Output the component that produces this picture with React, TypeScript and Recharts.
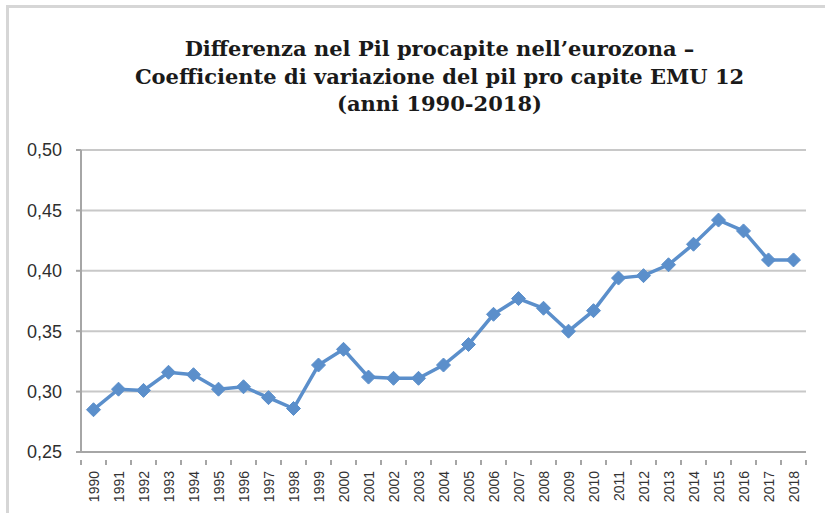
import React from "react";
import { LineChart, Line, XAxis, YAxis, CartesianGrid } from "recharts";

const years = [
  "1990", "1991", "1992", "1993", "1994", "1995", "1996", "1997", "1998", "1999",
  "2000", "2001", "2002", "2003", "2004", "2005", "2006", "2007", "2008", "2009",
  "2010", "2011", "2012", "2013", "2014", "2015", "2016", "2017", "2018",
];
const coeffVariazione = [
  0.285, 0.302, 0.301, 0.316, 0.314, 0.302, 0.304, 0.295, 0.286, 0.322,
  0.335, 0.312, 0.311, 0.311, 0.322, 0.339, 0.364, 0.377, 0.369, 0.35,
  0.367, 0.394, 0.396, 0.405, 0.422, 0.442, 0.433, 0.409, 0.409,
];
const yTicks = [0.25, 0.3, 0.35, 0.4, 0.45, 0.5];
const titleLines = [
  "Differenza nel Pil procapite nell\u2019eurozona \u2013",
  "Coefficiente di variazione del pil pro capite EMU 12",
  "(anni 1990-2018)",
];

const data = years.map((y, i) => ({ anno: y, cv: coeffVariazione[i] }));

const AXIS_GREY = "#a6a6a6";
const LINE_BLUE = "#5b8fcb";
const BAND = 25; // width of one year on the x axis

function Diamond(props: any) {
  const { cx, cy } = props;
  if (cx == null || cy == null) return null;
  const r = 7;
  return (
    <polygon
      points={`${cx},${cy - r} ${cx + r},${cy} ${cx},${cy + r} ${cx - r},${cy}`}
      fill={LINE_BLUE}
      stroke={LINE_BLUE}
      strokeWidth={1}
    />
  );
}

function YearTick(props: any) {
  const { x, y, payload, index } = props;
  const last = index === years.length - 1;
  return (
    <g>
      <line x1={x - BAND / 2} y1={y} x2={x - BAND / 2} y2={y + 5} stroke={AXIS_GREY} strokeWidth={2} />
      {last && (
        <line x1={x + BAND / 2} y1={y} x2={x + BAND / 2} y2={y + 5} stroke={AXIS_GREY} strokeWidth={2} />
      )}
      <text
        transform={`translate(${x + 1},${y + 11}) rotate(-90)`}
        textAnchor="end"
        dy="0.35em"
        fontSize={14}
        fill="#333"
        fontFamily="'Liberation Sans Narrow', 'Liberation Sans', sans-serif"
      >
        {payload.value}
      </text>
    </g>
  );
}

export default function App() {
  return (
    <div
      style={{
        position: "absolute",
        left: 0,
        top: 0,
        width: 825,
        height: 513,
        background: "#fff",
        overflow: "hidden",
      }}
    >
      <div
        style={{
          position: "absolute",
          left: 6,
          top: 5,
          width: 830,
          height: 520,
          borderTop: "3px solid #d6d6d6",
          borderLeft: "3px solid #d6d6d6",
        }}
      />
      <div
        style={{
          position: "absolute",
          left: 0,
          top: 35,
          width: 879,
          textAlign: "center",
          fontFamily: "'DejaVu Serif', serif",
          fontWeight: "bold",
          fontSize: 21,
          lineHeight: "27.5px",
          color: "#1a1a1a",
        }}
      >
        {titleLines.map((t) => (
          <div key={t}>{t}</div>
        ))}
      </div>
      <div style={{ position: "absolute", left: 0, top: 0 }}>
        <LineChart
          width={825}
          height={513}
          data={data}
          margin={{ top: 150, right: 19, bottom: 0, left: 0 }}
        >
          <CartesianGrid vertical={false} stroke="#c8c8c8" strokeWidth={2} />
          <XAxis
            dataKey="anno"
            interval={0}
            height={61}
            padding={{ left: BAND / 2, right: BAND / 2 }}
            tickLine={false}
            axisLine={{ stroke: AXIS_GREY, strokeWidth: 2 }}
            tick={<YearTick />}
          />
          <YAxis
            domain={[0.25, 0.5]}
            ticks={yTicks}
            width={81}
            tickSize={5}
            tickMargin={14}
            tickLine={{ stroke: AXIS_GREY, strokeWidth: 2 }}
            axisLine={{ stroke: AXIS_GREY, strokeWidth: 2 }}
            tickFormatter={(v: number) => v.toFixed(2).replace(".", ",")}
            tick={{
              fill: "#2e2e2e",
              fontSize: 18,
              fontFamily: "'Liberation Sans Narrow', 'Liberation Sans', sans-serif",
            }}
          />
          <Line
            type="linear"
            dataKey="cv"
            stroke={LINE_BLUE}
            strokeWidth={3.5}
            dot={<Diamond />}
            activeDot={false}
            isAnimationActive={false}
          />
        </LineChart>
      </div>
    </div>
  );
}
